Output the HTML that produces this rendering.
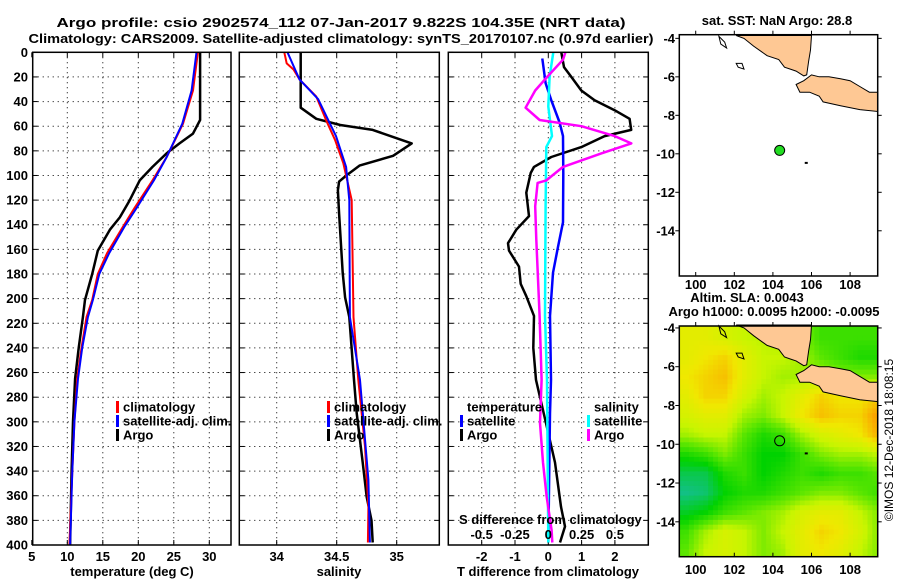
<!DOCTYPE html>
<html><head><meta charset="utf-8">
<style>
html,body{margin:0;padding:0;background:#fff;}
svg{display:block;font-family:"Liberation Sans",sans-serif;}
.b{font-weight:bold;font-size:13px;}
</style></head>
<body>
<svg id="fig" width="900" height="580" viewBox="0 0 900 580" xmlns="http://www.w3.org/2000/svg">
<text class="b" x="341" y="27" text-anchor="middle" font-size="14" textLength="569" lengthAdjust="spacingAndGlyphs">Argo profile: csio 2902574_112 07-Jan-2017 9.822S 104.35E (NRT data)</text>
<text class="b" x="341" y="43" text-anchor="middle" font-size="14" textLength="625" lengthAdjust="spacingAndGlyphs">Climatology: CARS2009. Satellite-adjusted climatology: synTS_20170107.nc (0.97d earlier)</text>
<g id="g"></g>
</svg>
<script>
// ---------- DATA ----------
const depthTicks=[0,20,40,60,80,100,120,140,160,180,200,220,240,260,280,300,320,340,360,380,400];
const tempTicks=[5,10,15,20,25,30];
const salTicks=[34,34.5,35];
const salTickLabels=["34","34.5","35"];
const tdiffTicks=[-2,-1,0,1,2];
const sdiffTicks=[-0.5,-0.25,0,0.25,0.5];
const sdiffTickLabels=["-0.5","-0.25","0","0.25","0.5"];

const tempArgoDepth=[0,55,66,74,82,93,104,120,134,144,161,180,201,215,240,265,300,340,400];
const tempArgo=[28.7,28.7,27.7,25.8,24.0,22.0,20.2,18.8,17.4,16.0,14.3,13.5,12.5,12.2,11.6,11.1,10.8,10.6,10.4];
const tempClimDepth=[0,31,58,85,104,126,142,163,180,201,215,240,265,300,340,400];
const tempClim=[28.4,27.7,26.3,24.0,22.0,19.5,17.8,15.6,14.3,13.5,12.7,12.0,11.4,11.0,10.7,10.3];
const tempSatDepth=[0,31,58,85,104,126,142,163,180,201,215,240,265,300,340,400];
const tempSat=[28.2,27.5,26.2,24.0,22.2,19.8,18.0,15.9,14.5,13.6,12.9,12.1,11.5,11.0,10.7,10.4];

const salArgoDepth=[0,45,54,59,63,74,84,92,100,105,112,131,179,199,215,266,293,333,361,380,398];
const salArgo=[34.20,34.20,34.33,34.53,34.80,35.125,34.97,34.69,34.58,34.52,34.51,34.52,34.55,34.57,34.605,34.644,34.667,34.717,34.75,34.79,34.80];
const salClimDepth=[0,9,14,22,36,57,71,90,120,152,215,266,320,369,398];
const salClim=[34.063,34.083,34.14,34.19,34.33,34.42,34.486,34.555,34.625,34.63,34.64,34.68,34.736,34.764,34.76];
const salSatDepth=[0,17,22,38,68,93,120,215,266,347,398];
const salSat=[34.09,34.167,34.19,34.345,34.494,34.578,34.605,34.61,34.694,34.764,34.777];

const tdArgoDepth=[0,12,20,31,39,47,54,63,68,77,85,93,98,114,133,144,155,161,174,188,198,214,240,266,301,333,369,385,398];
const tdArgo=[0.39,0.47,0.69,0.99,1.39,1.99,2.44,2.49,1.69,0.99,0.09,-0.43,-0.53,-0.66,-0.58,-0.96,-1.21,-1.18,-0.88,-0.83,-0.66,-0.43,-0.45,-0.37,-0.07,0.2,0.38,0.5,0.35];
const tdSatDepth=[5,25,39,57,68,98,138,158,179,214,266,293,398];
const tdSat=[-0.18,-0.08,0.09,0.34,0.44,0.45,0.44,0.29,0.14,0.05,0.08,0.05,0.0];
const sdSatDepth=[0,20,44,68,77,125,214,266,398];
const sdSat=[0.0375,0.01,0.0,0.028,-0.015,-0.02,-0.025,-0.01,0.0];
const sdArgoDepth=[0,6,20,31,45,55,60,68,74,82,93,104,106,125,152,214,266,301,333,361,388,398];
const sdArgo=[0.128,0.11,-0.008,-0.098,-0.17,-0.065,0.248,0.498,0.623,0.4,0.11,-0.015,-0.08,-0.098,-0.09,-0.065,-0.05,-0.062,-0.04,-0.012,0.025,0.03];

const mapLonTicks=[100,102,104,106,108];
const mapLatTicks=[-4,-6,-8,-10,-12,-14];
const argoLon=104.35, argoLat=-9.822;
// SLA grid (normalised 0..1) rows lat -4..-16 (1 deg), cols lon 99..110
const slaGrid=[
[0.70,0.70,0.65,0.60,0.58,0.55,0.50,0.40,0.40,0.40,0.40],
[0.70,0.75,0.80,0.70,0.60,0.60,0.55,0.45,0.40,0.35,0.35],
[0.75,0.80,0.85,0.70,0.60,0.55,0.55,0.55,0.50,0.50,0.50],
[0.70,0.80,0.80,0.65,0.55,0.60,0.70,0.80,0.75,0.75,0.80],
[0.65,0.70,0.70,0.55,0.50,0.60,0.75,0.85,0.80,0.80,0.95],
[0.55,0.60,0.60,0.45,0.35,0.40,0.55,0.65,0.70,0.75,0.90],
[0.35,0.40,0.50,0.40,0.30,0.30,0.40,0.50,0.55,0.55,0.60],
[0.20,0.20,0.35,0.40,0.30,0.35,0.40,0.35,0.40,0.40,0.45],
[0.12,0.15,0.30,0.35,0.35,0.40,0.45,0.50,0.50,0.45,0.40],
[0.25,0.30,0.40,0.45,0.50,0.55,0.65,0.70,0.70,0.60,0.50],
[0.40,0.55,0.65,0.60,0.50,0.60,0.70,0.80,0.75,0.65,0.50],
[0.45,0.60,0.65,0.60,0.50,0.55,0.70,0.75,0.70,0.60,0.50],
[0.45,0.60,0.65,0.60,0.50,0.55,0.70,0.75,0.70,0.60,0.50]
];
const sumatra=[[102.1,-3.85],[106.0,-3.85],[105.95,-4.6],[105.85,-5.2],[105.75,-5.9],[105.6,-5.95],[105.2,-5.7],[104.9,-5.6],[104.6,-5.5],[104.3,-5.1],[103.7,-4.9],[103.0,-4.4],[102.5,-4.0]];
const java=[[105.2,-6.4],[105.6,-6.2],[106.0,-5.9],[106.4,-6.0],[106.9,-6.0],[107.5,-6.1],[108.0,-6.2],[108.5,-6.5],[109.0,-6.8],[109.43,-6.8],[109.43,-7.8],[108.5,-7.7],[107.5,-7.5],[106.6,-7.3],[106.4,-7.0],[105.9,-6.8],[105.4,-6.8]];
const isle1=[[101.2,-3.9],[101.5,-4.2],[101.6,-4.5],[101.3,-4.3]];
const isle2=[[102.1,-5.3],[102.4,-5.3],[102.5,-5.6],[102.2,-5.5]];

// ---------- DRAW ----------
const NS="http://www.w3.org/2000/svg";
const G=document.getElementById('g');
function el(tag,attrs,parent,txt){const e=document.createElementNS(NS,tag);for(const k in attrs)e.setAttribute(k,attrs[k]);if(txt!==undefined)e.textContent=txt;(parent||G).appendChild(e);return e;}
const Y0=52.3,Y1=545;
const yD=d=>Y0+d*(Y1-Y0)/400;
function lin(d0,d1,r0,r1){return v=>r0+(v-d0)*(r1-r0)/(d1-d0);}
const xT=lin(5,30,31.8,209.3);
const xS=lin(34,35,276.7,396.7);
const xTD=lin(0,1,548.3,581.6);
const xSD=lin(0,1,548.3,681.6);

function panel(name,x0,x1,gridXs,tickXs){
  const g=el('g',{});
  
  
  el('rect',{x:x0,y:Y0,width:x1-x0,height:Y1-Y0,fill:'#fff'},g);
  depthTicks.forEach(d=>{ if(d>0&&d<400){el('line',{x1:x0,x2:x1,y1:yD(d),y2:yD(d),stroke:'#000','stroke-width':1,'stroke-dasharray':'1,4'},g);}
    el('line',{x1:x0,x2:x0+5,y1:yD(d),y2:yD(d),stroke:'#000'},g);el('line',{x1:x1-5,x2:x1,y1:yD(d),y2:yD(d),stroke:'#000'},g);});
  gridXs.forEach(x=>el('line',{x1:x,x2:x,y1:Y0,y2:Y1,stroke:'#000','stroke-dasharray':'1,4'},g));
  tickXs.forEach(x=>{el('line',{x1:x,x2:x,y1:Y1-5,y2:Y1,stroke:'#000'},g);el('line',{x1:x,x2:x,y1:Y0,y2:Y0+5,stroke:'#000'},g);});
  return g;
}
function line(g,name,ds,vs,xf,color,w){
  const pts=ds.map((d,i)=>xf(vs[i]).toFixed(1)+','+yD(d).toFixed(1)).join(' ');
  const p=el('polyline',{points:pts,fill:'none',stroke:color,'stroke-width':w,'stroke-linejoin':'round'},g);
  
  
}
function borders(g,x0,x1){el('rect',{x:x0,y:Y0,width:x1-x0,height:Y1-Y0,fill:'none',stroke:'#000','stroke-width':1.5},g);}
function txt(t,x,y,anchor,extra){const e=el('text',Object.assign({x:x,y:y,'text-anchor':anchor||'start',class:'b'},extra||{}),G,t);return e;}

// panel 1
const p1=panel('temperature-panel',32.7,231,tempTicks.slice(1).map(xT),tempTicks.map(xT));
line(p1,'temp-argo-line',tempArgoDepth,tempArgo,xT,'#000',2.5);
line(p1,'temp-climatology-line',tempClimDepth,tempClim,xT,'#f00',2);
line(p1,'temp-satellite-line',tempSatDepth,tempSat,xT,'#00f',2);
borders(p1,32.7,231);
depthTicks.forEach(d=>{const t=txt(String(d),28,yD(d)+4.5,'end');});
tempTicks.forEach(v=>{const t=txt(String(v),xT(v),561,'middle');});
txt('temperature (deg C)',132,576,'middle');

// panel 2
const p2=panel('salinity-panel',239.3,439.3,salTicks.map(xS),salTicks.map(xS));
line(p2,'sal-argo-line',salArgoDepth,salArgo,xS,'#000',2.5);
line(p2,'sal-climatology-line',salClimDepth,salClim,xS,'#f00',2);
line(p2,'sal-satellite-line',salSatDepth,salSat,xS,'#00f',2);
borders(p2,239.3,439.3);
salTicks.forEach((v,i)=>{const t=txt(salTickLabels[i],xS(v),561,'middle');});
txt('salinity',339,576,'middle');

// panel 3
const p3=panel('difference-panel',448.3,648.3,tdiffTicks.map(xTD),tdiffTicks.map(xTD));
line(p3,'tdiff-argo-line',tdArgoDepth,tdArgo,xTD,'#000',2.5);
line(p3,'tdiff-satellite-line',tdSatDepth,tdSat,xTD,'#00f',2.5);
line(p3,'sdiff-satellite-line',sdSatDepth,sdSat,xSD,'#0ff',2.5);
line(p3,'sdiff-argo-line',sdArgoDepth,sdArgo,xSD,'#f0f',2.5);
borders(p3,448.3,648.3);
tdiffTicks.forEach(v=>{const t=txt(String(v),xTD(v),561,'middle');});
sdiffTicks.forEach((v,i)=>{const t=txt(sdiffTickLabels[i],xSD(v),539,'middle');});
txt('S difference from climatology',459,524,'start');
txt('T difference from climatology',548,576,'middle');

// legends
function legend(name,items,x,y0){
  const g=el('g',{});
  items.forEach((it,i)=>{const y=y0+i*14;
    if(it[1])el('rect',{x:x,y:y-6,width:3,height:12,fill:it[1]},g);
    el('text',{x:x+7,y:y+4.5,class:'b'},g,it[0]);});
}
legend('temp-legend',[['climatology','#f00'],['satellite-adj. clim.','#00f'],['Argo','#000']],116,407);
legend('sal-legend',[['climatology','#f00'],['satellite-adj. clim.','#00f'],['Argo','#000']],327,407);
legend('tdiff-legend',[['temperature',null],['satellite','#00f'],['Argo','#000']],460,407);
legend('sdiff-legend',[['salinity',null],['satellite','#0ff'],['Argo','#f0f']],587,407);

// ---------- maps ----------
function makeMap(name,x0,x1,yTop,yBot,latTop,latBot,lonL,lonR){
  const fx=lin(lonL,lonR,x0,x1), fy=lin(latTop,latBot,yTop,yBot);
  const g=el('g',{});
  return {g,fx,fy,x0,x1,yTop,yBot};
}
function coast(m,poly,fill){const pts=poly.map(p=>m.fx(p[0]).toFixed(1)+','+m.fy(p[1]).toFixed(1)).join(' ');
  el('polygon',{points:pts,fill:fill,stroke:'#000','stroke-width':1},m.g);}
function mapFrame(m,showLonLab,lonLabY){
  el('rect',{x:m.x0,y:m.yTop,width:m.x1-m.x0,height:m.yBot-m.yTop,fill:'none',stroke:'#000','stroke-width':1.5},m.g);
  mapLonTicks.forEach(v=>{const x=m.fx(v);el('line',{x1:x,x2:x,y1:m.yBot,y2:m.yBot-4,stroke:'#000'},m.g);el('line',{x1:x,x2:x,y1:m.yTop,y2:m.yTop-4,stroke:'#000'},m.g);
    const t=txt(String(v),x,lonLabY,'middle');});
  mapLatTicks.forEach(v=>{const y=m.fy(v);el('line',{x1:m.x0,x2:m.x0-4,y1:y,y2:y,stroke:'#000'},m.g);el('line',{x1:m.x1,x2:m.x1+4,y1:y,y2:y,stroke:'#000'},m.g);
    const t=txt(String(v),675,y+4.5,'end');});
}
// top map
const m1=makeMap('sst-map',679.3,877.7,34.7,276,-3.81,-16.35,99.15,109.43);
el('rect',{x:679.3,y:34.7,width:198.4,height:241.3,fill:'#fff'},m1.g);
coast(m1,sumatra,'#fec894');coast(m1,java,'#fec894');coast(m1,isle1,'none');coast(m1,isle2,'none');
const dot1=el('circle',{cx:m1.fx(argoLon),cy:m1.fy(argoLat),r:5,fill:'#2d2',stroke:'#000'},m1.g);

el('rect',{x:m1.fx(105.65),y:m1.fy(-10.42),width:3,height:2,fill:'#000'},m1.g);
mapFrame(m1,true,289);
txt('sat. SST: NaN Argo: 28.8',777,25,'middle');

// bottom map
const m2=makeMap('sla-map',679.3,877.7,326,556.7,-3.9,-15.8,99.15,109.43);
const stops=[[0.1,[20,190,150]],[0.3,[0,210,0]],[0.45,[90,230,0]],[0.6,[200,245,0]],[0.75,[240,232,0]],[0.9,[250,170,0]],[1.0,[250,140,0]]];
function cmap(v){if(v<=stops[0][0])return stops[0][1];for(let i=1;i<stops.length;i++){if(v<=stops[i][0]){const a=stops[i-1],b=stops[i],t=(v-a[0])/(b[0]-a[0]);return a[1].map((c,k)=>Math.round(c+(b[1][k]-c)*t));}}return stops[stops.length-1][1];}
function sla(lon,lat){const c=lon-99.5,r=-4.5-lat;const c0=Math.max(0,Math.min(9,Math.floor(c))),r0=Math.max(0,Math.min(11,Math.floor(r)));
  const tc=Math.max(0,Math.min(1,c-c0)),tr=Math.max(0,Math.min(1,r-r0));
  const a=slaGrid[r0][c0],b=slaGrid[r0][c0+1],cc=slaGrid[r0+1][c0],d=slaGrid[r0+1][c0+1];
  return (a*(1-tc)+b*tc)*(1-tr)+(cc*(1-tc)+d*tc)*tr;}
const cellsG=el('g',{},m2.g);
const step=0.25;
for(let lat=-3.9;lat>-15.8;lat-=step){for(let lon=99.15;lon<109.43;lon+=step){
  const v=sla(lon+step/2,lat-step/2);const c=cmap(v);
  const x=m2.fx(lon),y=m2.fy(lat),w=m2.fx(Math.min(lon+step,109.43))-x,h=m2.fy(Math.max(lat-step,-15.8))-y;
  const r=el('rect',{x:x.toFixed(1),y:y.toFixed(1),width:(w+0.6).toFixed(1),height:(h+0.6).toFixed(1),fill:'rgb('+c.join(',')+')'},cellsG);
  
  
}}
coast(m2,sumatra,'#fec894');coast(m2,java,'#fec894');coast(m2,isle1,'none');coast(m2,isle2,'none');
const dot2=el('circle',{cx:m2.fx(argoLon),cy:m2.fy(argoLat),r:5,fill:'none',stroke:'#000'},m2.g);

el('rect',{x:m2.fx(105.65),y:m2.fy(-10.42),width:3,height:2,fill:'#000'},m2.g);
mapFrame(m2,true,574);
txt('Altim. SLA: 0.0043',747,302,'middle');
txt('Argo h1000: 0.0095 h2000: -0.0095',774,316,'middle');
const ts=el('text',{x:0,y:0,'font-size':'12',transform:'translate(893,440) rotate(-90)','text-anchor':'middle'},G,'©IMOS 12-Dec-2018 18:08:15');

</script>
</body></html>
